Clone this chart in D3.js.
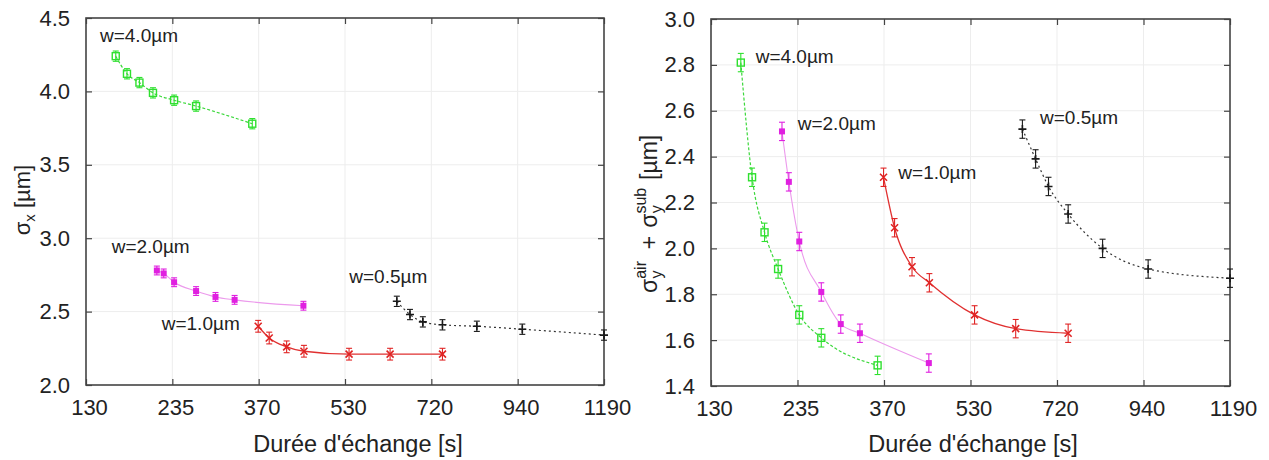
<!DOCTYPE html>
<html><head><meta charset="utf-8">
<script src="https://cdn.jsdelivr.net/npm/d3@7"></script>
<style>
html,body{margin:0;padding:0;background:#fff;}
svg{display:block;font-family:"Liberation Sans",Arial,sans-serif;}
</style></head>
<body>
<svg id="chart" width="1269" height="460"></svg>
<script>
// ---- data ----
const xTickLabels = [130, 235, 370, 530, 720, 940, 1190];
const leftYTicks = [2.0, 2.5, 3.0, 3.5, 4.0, 4.5];
const rightYTicks = [1.4, 1.6, 1.8, 2.0, 2.2, 2.4, 2.6, 2.8, 3.0];
const seriesNames = ["w=4.0µm", "w=2.0µm", "w=1.0µm", "w=0.5µm"];

const durW40 = [162, 175, 190, 207, 235, 266, 354];
const durW20 = [212, 221, 235, 266, 295, 325, 445];
const durW10 = [364, 383, 414, 446, 535, 623, 745];
const durW05 = [638, 668, 698, 745, 831, 952, 1190];

const sigmaXW40 = [4.24, 4.12, 4.06, 3.99, 3.94, 3.90, 3.78];
const sigmaXW20 = [2.78, 2.76, 2.70, 2.64, 2.60, 2.58, 2.54];
const sigmaXW10 = [2.40, 2.32, 2.26, 2.23, 2.21, 2.21, 2.21];
const sigmaXW05 = [2.57, 2.48, 2.43, 2.41, 2.40, 2.38, 2.34];
const sigmaXErr = [0.035, 0.03, 0.04, 0.035];

const sigmaYW40 = [2.81, 2.31, 2.07, 1.91, 1.71, 1.61, 1.49];
const sigmaYW20 = [2.51, 2.29, 2.03, 1.81, 1.67, 1.63, 1.50];
const sigmaYW10 = [2.31, 2.09, 1.92, 1.85, 1.71, 1.65, 1.63];
const sigmaYW05 = [2.52, 2.39, 2.27, 2.15, 2.00, 1.91, 1.87];
const sigmaYErr = [0.04, 0.04, 0.04, 0.04];

// label anchors (data units)
const leftLabelX = [144.6, 157.4, 218.4, 535.5];
const leftLabelY = [4.337, 2.899, 2.375, 2.695];
const rightLabelX = [179.3, 232.9, 389.6, 678.3];
const rightLabelY = [2.808, 2.516, 2.303, 2.542];

// ---- styles ----
const colors = ["#2fe02f", "#e020e0", "#e02424", "#1a1a1a"];
const lineColors = ["#3cd83c", "#ec9aec", "#e03030", "#333"];
const dashes = ["3,2", null, null, "2,3"];
const lineW = [1.2, 1.1, 1.3, 1.2];
const markers = ["osq", "fsq", "x", "plus"];

const svg = d3.select("#chart");
const durs = [durW40, durW20, durW10, durW05];

function panel(opt) {
  const g = svg.append("g");
  const x = d3.scalePow().exponent(0.5).domain([130, 1190]).range([opt.x0, opt.x1]);
  const y = d3.scaleLinear().domain(opt.ydom).range([opt.y1, opt.y0]);
  const step = (x(1190) - x(130)) / (xTickLabels.length - 1);
  const xTickVals = xTickLabels.map((l, i) => x.invert(x(130) + i * step));

  // grid
  g.append("g").selectAll("line.gx").data(xTickVals.slice(1, -1)).join("line")
    .attr("x1", d => x(d)).attr("x2", d => x(d)).attr("y1", opt.y0).attr("y2", opt.y1)
    .attr("stroke", "#ededed").attr("stroke-width", 1);
  g.append("g").selectAll("line.gy").data(opt.yticks.slice(1, -1)).join("line")
    .attr("x1", opt.x0).attr("x2", opt.x1).attr("y1", d => y(d)).attr("y2", d => y(d))
    .attr("stroke", "#ededed").attr("stroke-width", 1);

  // axes
  const fmtX = (d) => xTickLabels[xTickVals.indexOf(d)];
  const axB = g.append("g").attr("transform", `translate(0,${opt.y1})`)
    .call(d3.axisBottom(x).tickValues(xTickVals).tickFormat(fmtX).tickSizeInner(-6).tickSizeOuter(0).tickPadding(14));
  const axT = g.append("g").attr("transform", `translate(0,${opt.y0})`)
    .call(d3.axisTop(x).tickValues(xTickVals).tickFormat("").tickSizeInner(-6).tickSizeOuter(0));
  const axL = g.append("g").attr("transform", `translate(${opt.x0},0)`)
    .call(d3.axisLeft(y).tickValues(opt.yticks).tickFormat(d3.format(".1f")).tickSizeInner(-6).tickSizeOuter(0).tickPadding(16));
  const axR = g.append("g").attr("transform", `translate(${opt.x1},0)`)
    .call(d3.axisRight(y).tickValues(opt.yticks).tickFormat("").tickSizeInner(-6).tickSizeOuter(0));
  [axB, axT, axL, axR].forEach(a => {
    a.select(".domain").remove();
    a.selectAll(".tick line").attr("stroke", "#444").attr("stroke-width", 1.2);
    a.selectAll(".tick text").attr("fill", "#222").attr("font-size", 22)
      .attr("font-family", "'Liberation Sans',Arial,sans-serif");
  });
  axB.selectAll(".tick text").attr("dx", 3);
  g.append("rect").attr("x", opt.x0).attr("y", opt.y0)
    .attr("width", opt.x1 - opt.x0).attr("height", opt.y1 - opt.y0)
    .attr("fill", "none").attr("stroke", "#444").attr("stroke-width", 1.6);

  // series
  const line = d3.line().x(d => x(d[0])).y(d => y(d[1])).curve(d3.curveMonotoneX);
  opt.vals.forEach((vals, si) => {
    const pts = durs[si].map((d, i) => [d, vals[i]]);
    g.append("path").datum(pts).attr("d", line).attr("fill", "none")
      .attr("stroke", lineColors[si]).attr("stroke-width", lineW[si])
      .attr("stroke-dasharray", dashes[si]);
    const err = opt.err[si];
    const sg = g.append("g");
    pts.forEach(p => {
      const px = x(p[0]), py = y(p[1]), ya = y(p[1] + err), yb = y(p[1] - err);
      const c = colors[si];
      sg.append("line").attr("x1", px).attr("x2", px).attr("y1", ya).attr("y2", yb)
        .attr("stroke", c).attr("stroke-width", 1.1);
      [ya, yb].forEach(yy => sg.append("line").attr("x1", px - 3).attr("x2", px + 3)
        .attr("y1", yy).attr("y2", yy).attr("stroke", c).attr("stroke-width", 1.1));
      const m = markers[si];
      if (m === "osq") {
        sg.append("rect").attr("x", px - 3.5).attr("y", py - 3.5).attr("width", 7).attr("height", 7)
          .attr("fill", "none").attr("stroke", c).attr("stroke-width", 1.4);
      } else if (m === "fsq") {
        sg.append("rect").attr("x", px - 3).attr("y", py - 3).attr("width", 6).attr("height", 6)
          .attr("fill", c);
      } else if (m === "x") {
        sg.append("path").attr("d", `M${px-3.5},${py-3.5}L${px+3.5},${py+3.5}M${px-3.5},${py+3.5}L${px+3.5},${py-3.5}`)
          .attr("stroke", c).attr("stroke-width", 1.6);
      } else {
        sg.append("path").attr("d", `M${px-4},${py}L${px+4},${py}M${px},${py-4}L${px},${py+4}`)
          .attr("stroke", c).attr("stroke-width", 1.6);
      }
    });
  });

  // labels
  seriesNames.forEach((n, i) => {
    g.append("text").attr("x", x(opt.lx[i])).attr("y", y(opt.ly[i]))
      .attr("font-size", 19).attr("fill", "#222").text(n);
  });

  // x title
  g.append("text").attr("x", opt.tx).attr("y", 452)
    .attr("text-anchor", "middle").attr("font-size", 23.5).attr("fill", "#222")
    .text("Durée d'échange [s]");
  return {x, y};
}

panel({x0: 86, x1: 604, y0: 18, y1: 385, ydom: [2.0, 4.5], yticks: leftYTicks,
  vals: [sigmaXW40, sigmaXW20, sigmaXW10, sigmaXW05], err: sigmaXErr,
  lx: leftLabelX, ly: leftLabelY, tx: 358});
panel({x0: 711, x1: 1230, y0: 19, y1: 386, ydom: [1.4, 3.0], yticks: rightYTicks,
  vals: [sigmaYW40, sigmaYW20, sigmaYW10, sigmaYW05], err: sigmaYErr,
  lx: rightLabelX, ly: rightLabelY, tx: 973});

// y titles
const t1 = svg.append("text").attr("transform", "translate(30,200) rotate(-90)")
  .attr("text-anchor", "middle").attr("font-size", 22).attr("fill", "#222");
t1.append("tspan").text("σ");
t1.append("tspan").attr("font-size", 15).attr("dy", 5).text("x");
t1.append("tspan").attr("dy", -5).text(" [µm]");

// right title: σ_y^air + σ_y^sub [µm], subscripts stacked under superscripts
const t2 = svg.append("text").attr("transform", "translate(657,293) rotate(-90)")
  .attr("text-anchor", "start").attr("font-size", 23).attr("fill", "#222");
const airW = 17.5, subW = 25.5, yW = 8.2;
t2.append("tspan").text("σ");
t2.append("tspan").attr("font-size", 16).attr("dy", -11).text("air");
t2.append("tspan").attr("font-size", 16).attr("dx", -airW).attr("dy", 16).text("y");
t2.append("tspan").attr("dx", airW - yW + 12).attr("dy", -5).text("+");
t2.append("tspan").attr("dx", 8).text("σ");
t2.append("tspan").attr("font-size", 16).attr("dy", -11).text("sub");
t2.append("tspan").attr("font-size", 16).attr("dx", -subW).attr("dy", 16).text("y");
t2.append("tspan").attr("dx", subW - yW + 8).attr("dy", -5).text("[µm]");
</script>
</body></html>
